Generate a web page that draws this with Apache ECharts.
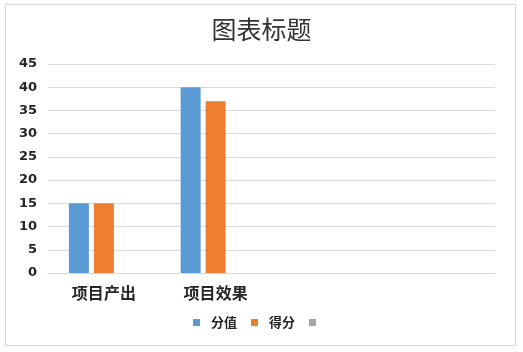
<!DOCTYPE html>
<html>
<head>
<meta charset="utf-8">
<script src="https://cdn.jsdelivr.net/npm/echarts@6/dist/echarts.min.js"></script>
<style>
  html, body { margin: 0; padding: 0; background: #fff; }
  #frame { position: absolute; left: 5px; top: 4px; width: 511px; height: 342px;
    border: 1px solid #d9d9d9; box-sizing: border-box; }
  #chart { width: 523px; height: 352px; position: absolute; left: 0; top: 0; }
</style>
</head>
<body>
<div id="frame"></div>
<div id="chart"></div>
<script>
// ── Data ──────────────────────────────────────────────────────────────────────
const categories = ['项目产出', '项目效果', '', ''];
const seriesNames = ['分值', '得分', ' '];
const fenZhi = [15, 40, null, null];
const deFen = [15, 37, null, null];
const third = [null, null, null, null];
const yTicks = { min: 0, max: 45, step: 5 };

const COLORS = ['#5b9bd5', '#ed7d31', '#a5a5a5'];
const FONT = '"Noto Sans CJK SC", "DejaVu Sans", sans-serif';

const chart = echarts.init(document.getElementById('chart'), null, { renderer: 'canvas' });

const bar = (name, data, color) => ({
  name, type: 'bar', data,
  barWidth: 20, barGap: '25%',
  itemStyle: { color },
});

chart.setOption({
  animation: false,
  title: {
    text: '图表标题', left: 'center', top: 12,
    textStyle: { fontFamily: FONT, fontSize: 25, fontWeight: 'normal', color: '#333' },
  },
  grid: { left: 48, right: 28, top: 64, bottom: 79 },
  legend: {
    bottom: 18, left: 'center',
    itemWidth: 7, itemHeight: 7, itemGap: 14,
    icon: 'rect',
    data: seriesNames.map((n, i) => ({ name: n, itemStyle: { color: COLORS[i] } })),
    textStyle: { fontFamily: FONT, fontSize: 13, fontWeight: 'bold', color: '#262626',
      padding: [0, 0, 0, 6] },
  },
  xAxis: {
    type: 'category',
    data: categories,
    axisLine: { lineStyle: { color: '#d9d9d9' } },
    axisTick: { show: false },
    axisLabel: { fontFamily: FONT, fontSize: 16, fontWeight: 'bold', color: '#262626', margin: 12 },
  },
  yAxis: {
    type: 'value',
    min: yTicks.min, max: yTicks.max, interval: yTicks.step,
    axisLine: { show: false },
    axisTick: { show: false },
    splitLine: { lineStyle: { color: '#d9d9d9' } },
    axisLabel: { fontFamily: '"DejaVu Sans", sans-serif', fontSize: 13, fontWeight: 'bold', color: '#262626', margin: 11 },
  },
  series: [
    bar(seriesNames[0], fenZhi, COLORS[0]),
    bar(seriesNames[1], deFen, COLORS[1]),
    bar(seriesNames[2], third, COLORS[2]),
  ],
});
</script>
</body>
</html>
